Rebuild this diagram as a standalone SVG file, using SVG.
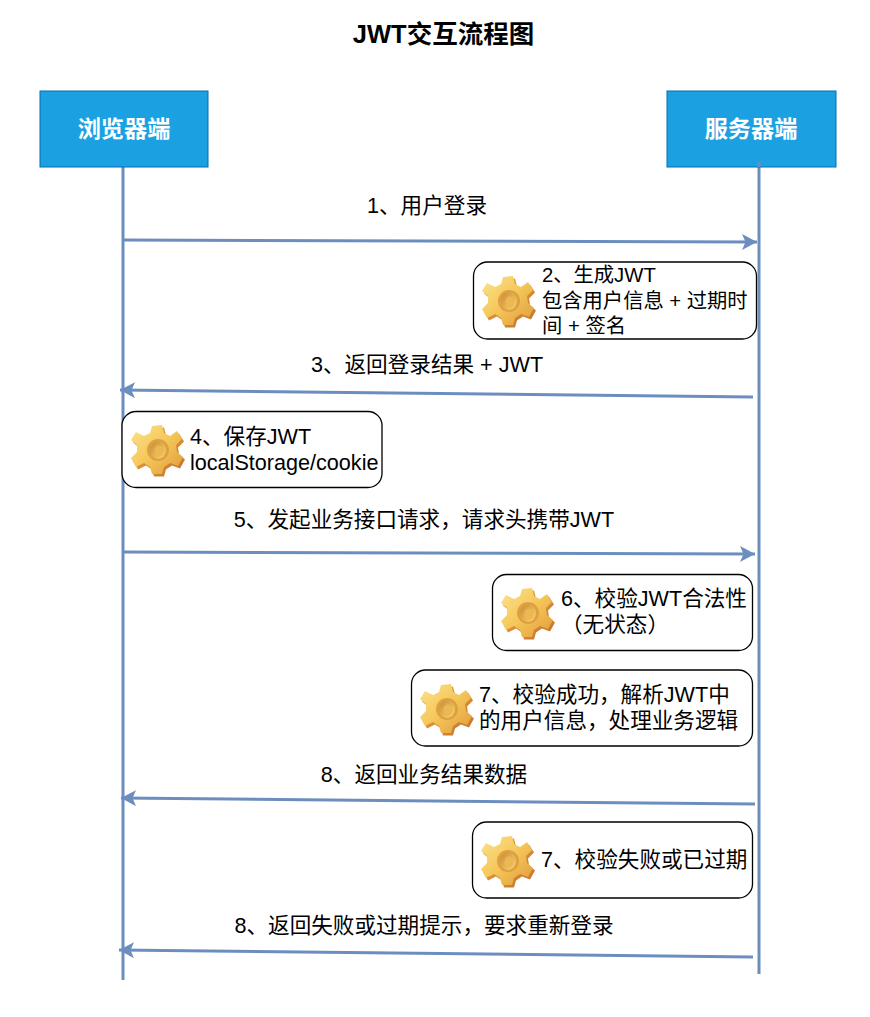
<svg xmlns="http://www.w3.org/2000/svg" width="870" height="1017" viewBox="0 0 870 1017">
<style>
text{font-family:"Liberation Sans","Noto Sans CJK SC",sans-serif;fill:#000;font-size:21.6px}
.s{font-size:20.300px}
.c{stroke:#6c8ebf;stroke-width:3;fill:none}
.h{fill:#6c8ebf;stroke:none}
.b{fill:#fff;stroke:#000;stroke-width:1.3}
.a{fill:#1ba1e2;stroke:#006eaf;stroke-width:1}
.w{fill:#fff;font-weight:bold;font-size:23.2px}
</style>
<defs>
<marker id="ah" markerWidth="18" markerHeight="18" refX="15" refY="8" orient="auto" markerUnits="userSpaceOnUse"><path class="h" d="M0 0L15 8L0 16L3.500 8Z"/></marker>
<linearGradient id="gold" x1="0" y1="0" x2="1" y2="1"><stop offset="0" stop-color="#fbe48e"/><stop offset=".5" stop-color="#f5c659"/><stop offset="1" stop-color="#e09a3c"/></linearGradient>
<linearGradient id="side" x1="0" y1="0" x2="1" y2="1"><stop offset="0" stop-color="#e9a846"/><stop offset="1" stop-color="#c4742a"/></linearGradient>
<linearGradient id="hole" x1="0" y1="0" x2="1" y2="1"><stop offset="0" stop-color="#c98a30"/><stop offset="1" stop-color="#f8d779"/></linearGradient>
<path id="gp" d="M-5-23L5-24L7-16L13-13L20-18L25-10L19-4L20 3L26 8L21 17L13 14L7 18L5 25L-5 25L-7 18L-13 14L-21 18L-26 9L-20 3L-20-4L-26-9L-21-17L-13-13L-7-16Z"/>
<g id="gear"><use href="#gp" x="2" y="2.500" fill="url(#side)"/><use href="#gp" fill="url(#gold)"/><circle r="11" cx="1" cy="1" fill="#e0a040"/><ellipse rx="8" ry="9" cx="1" cy="1" fill="url(#hole)"/><ellipse rx="4.500" ry="5.500" cx="2" cy="2" fill="#eeb850"/></g>
</defs>
<text x="443.500" y="43" text-anchor="middle" style="font-size:25.500px;font-weight:bold">JWT交互流程图</text>
<g id="connectors">
<path class="c" d="M123 167V980"/>
<path class="c" d="M759 162V974"/>
<path class="c" d="M122 240L757 242" marker-end="url(#ah)"/>
<path class="c" d="M753 397L120 390" marker-end="url(#ah)"/>
<path class="c" d="M122 552L755 554" marker-end="url(#ah)"/>
<path class="c" d="M755 804L121 798" marker-end="url(#ah)"/>
<path class="c" d="M753 957L119 950" marker-end="url(#ah)"/>
</g>
<g id="browser"><rect class="a" x="40" y="91" width="168" height="76"/><text class="w" x="124" y="137" text-anchor="middle">浏览器端</text></g>
<g id="server"><rect class="a" x="667" y="91" width="169" height="76"/><text class="w" x="751" y="137" text-anchor="middle">服务器端</text></g>
<path class="c" d="M759 162V167"/>
<g id="l1"><text x="427" y="213" text-anchor="middle">1、用户登录</text></g>
<g id="n2"><rect class="b" x="473.500" y="262" width="283" height="77" rx="14"/><use href="#gear" x="508" y="300"/><text class="s" x="542" y="282">2、生成JWT</text><text class="s" x="542" y="308">包含用户信息 + 过期时</text><text class="s" x="542" y="333">间 + 签名</text></g>
<g id="l3"><text x="427" y="372" text-anchor="middle">3、返回登录结果 + JWT</text></g>
<g id="n4"><rect class="b" x="122" y="411.500" width="260" height="76" rx="14"/><use href="#gear" x="157" y="449"/><text x="190" y="444">4、保存JWT</text><text x="190" y="470">localStorage/cookie</text></g>
<g id="l5"><text x="424" y="527" text-anchor="middle">5、发起业务接口请求，请求头携带JWT</text></g>
<g id="n6"><rect class="b" x="492.500" y="574.500" width="260" height="76" rx="14"/><use href="#gear" x="527" y="612"/><text x="561" y="606">6、校验JWT合法性</text><text x="561" y="632">（无状态）</text></g>
<g id="n7"><rect class="b" x="411.500" y="670" width="341" height="76" rx="14"/><use href="#gear" x="446" y="708"/><text x="479" y="702">7、校验成功，解析JWT中</text><text x="479" y="728">的用户信息，处理业务逻辑</text></g>
<g id="l8"><text x="424" y="782" text-anchor="middle">8、返回业务结果数据</text></g>
<g id="n7b"><rect class="b" x="472.500" y="822" width="280" height="76" rx="14"/><use href="#gear" x="507" y="860"/><text x="541" y="867">7、校验失败或已过期</text></g>
<g id="l8b"><text x="424" y="933" text-anchor="middle">8、返回失败或过期提示，要求重新登录</text></g>
</svg>
